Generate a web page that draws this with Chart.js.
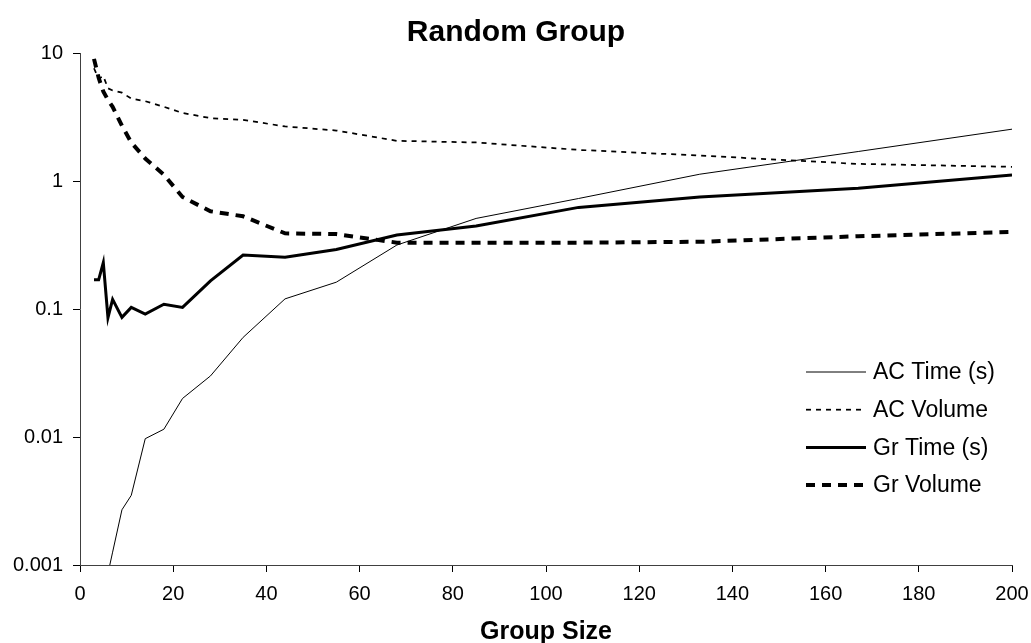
<!DOCTYPE html>
<html>
<head>
<meta charset="utf-8">
<script src="https://cdn.jsdelivr.net/npm/chart.js@4.4.1/dist/chart.umd.min.js"></script>
<style>
    html, body { margin: 0; padding: 0; background: #fff; }
    #wrap { width: 1031px; height: 643px; position: relative; }
</style>
</head>
<body>
<div id="wrap"><canvas id="chart"></canvas></div>
<script>
// group sizes on the x axis
const groupSizes = [3, 4, 5, 6, 7, 9, 11, 14, 18, 22, 28, 35, 44, 55, 68, 85, 107, 133, 167, 200];

// series values (log scale)
const acTime   = [null, null, null, 0.00086, 0.00126, 0.0027, 0.0035, 0.0097, 0.0115, 0.020, 0.030, 0.060, 0.120, 0.162, 0.316, 0.51, 0.73, 1.13, 1.70, 2.54];
const acVolume = [7.6, 6.3, 6.6, 5.3, 5.1, 4.9, 4.4, 4.2, 3.8, 3.4, 3.1, 3.0, 2.67, 2.48, 2.06, 2.0, 1.75, 1.58, 1.36, 1.29];
const grTime   = [0.169, 0.169, 0.23, 0.0855, 0.119, 0.086, 0.103, 0.0914, 0.109, 0.103, 0.166, 0.264, 0.254, 0.292, 0.379, 0.445, 0.622, 0.75, 0.877, 1.115];
const grVolume = [9.0, 6.4, 5.0, 4.3, 3.8, 2.7, 2.0, 1.5, 1.12, 0.75, 0.58, 0.53, 0.39, 0.385, 0.33, 0.33, 0.33, 0.335, 0.37, 0.40];

const yTicks = [0.001, 0.01, 0.1, 1, 10];
const seriesNames = ['AC Time (s)', 'AC Volume', 'Gr Time (s)', 'Gr Volume'];

const FONT = "'Liberation Sans', Arial, sans-serif";
Chart.defaults.font.family = FONT;
Chart.defaults.color = '#000';

const toPoints = arr => groupSizes.map((x, i) => ({ x: x, y: arr[i] }));

// title and legend are drawn by hand so they sit where the original has them
const decorations = {
    id: 'decorations',
    afterDraw(chart) {
        const ctx = chart.ctx;
        ctx.save();
        ctx.fillStyle = '#000';
        ctx.font = 'bold 30px ' + FONT;
        ctx.textAlign = 'center';
        ctx.textBaseline = 'middle';
        ctx.fillText('Random Group', 516, 33);

        ctx.font = '23px ' + FONT;
        ctx.textAlign = 'left';
        chart.data.datasets.forEach((ds, i) => {
            const y = 372 + i * 37.7;
            ctx.beginPath();
            ctx.strokeStyle = ds.borderColor;
            ctx.lineWidth = ds.borderWidth;
            ctx.setLineDash(ds.borderDash || []);
            ctx.moveTo(806, y);
            ctx.lineTo(866, y);
            ctx.stroke();
            ctx.setLineDash([]);
            ctx.fillText(ds.label, 873, y + 1);
        });
        ctx.restore();
    }
};

new Chart(document.getElementById('chart'), {
    type: 'line',
    data: {
        datasets: [
            { label: seriesNames[0], data: toPoints(acTime), borderColor: '#000', borderWidth: 1 },
            { label: seriesNames[1], data: toPoints(acVolume), borderColor: '#000', borderWidth: 1.75, borderDash: [5, 5] },
            { label: seriesNames[2], data: toPoints(grTime), borderColor: '#000', borderWidth: 3 },
            { label: seriesNames[3], data: toPoints(grVolume), borderColor: '#000', borderWidth: 4, borderDash: [9, 7] }
        ]
    },
    options: {
        responsive: true,
        maintainAspectRatio: false,
        animation: false,
        layout: { padding: { top: 53, right: 19, left: 0, bottom: 0 } },
        elements: { point: { radius: 0 }, line: { tension: 0, fill: false } },
        plugins: {
            legend: { display: false },
            title: { display: false },
            tooltip: { enabled: false }
        },
        scales: {
            x: {
                type: 'linear',
                min: 0,
                max: 200,
                ticks: { stepSize: 20, font: { size: 20 }, padding: 10, maxRotation: 0 },
                grid: { drawOnChartArea: false, drawTicks: true, tickLength: 7, color: '#000' },
                border: { display: true, color: '#404040', width: 1 },
                title: {
                    display: true,
                    text: 'Group Size',
                    font: { size: 25, weight: 'bold', lineHeight: 0.88 },
                    padding: { top: 0, bottom: 0 }
                },
                afterFit(scale) {
                    scale.height = 78;
                    scale.paddingLeft = 0;
                    scale.paddingRight = 0;
                }
            },
            y: {
                type: 'logarithmic',
                min: 0.001,
                max: 10,
                afterBuildTicks(scale) {
                    scale.ticks = yTicks.map(v => ({ value: v }));
                },
                ticks: {
                    font: { size: 20 },
                    padding: 10,
                    callback: v => String(v)
                },
                grid: { drawOnChartArea: false, drawTicks: true, tickLength: 7, color: '#000' },
                border: { display: true, color: '#404040', width: 1 },
                afterFit(scale) {
                    scale.width = 80;
                    scale.paddingTop = 0;
                    scale.paddingBottom = 0;
                }
            }
        }
    },
    plugins: [decorations]
});
</script>
</body>
</html>
